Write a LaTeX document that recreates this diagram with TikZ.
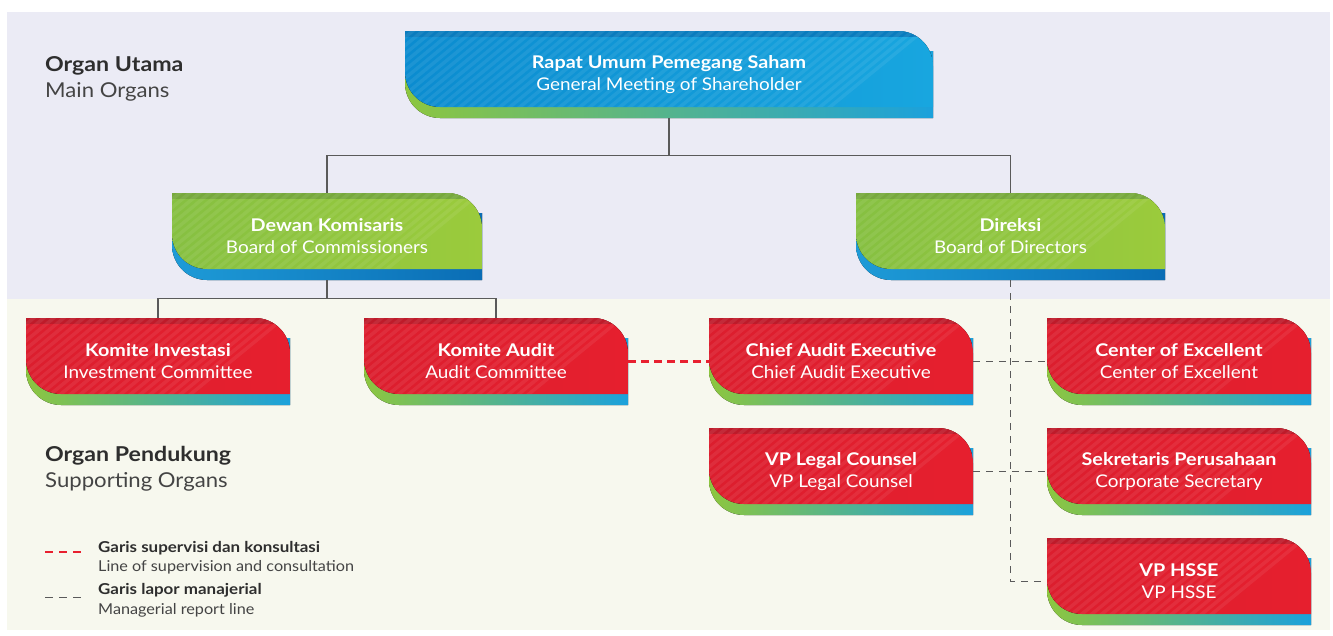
\documentclass[tikz,border=0pt]{standalone}
\usepackage{fontspec}
\setmainfont{Lato}[FakeStretch=1.08, BoldFeatures={FakeStretch=1.13}]
\usetikzlibrary{calc}
\definecolor{lav}{HTML}{EBEBF5}
\definecolor{beig}{HTML}{F7F8EE}
\definecolor{txtdark}{HTML}{2E2E2E}
\definecolor{txtgray}{HTML}{444444}
\definecolor{linegray}{HTML}{5A5A5A}
\definecolor{redline}{HTML}{E8202F}
\definecolor{rbL}{HTML}{DC1E2E}
\definecolor{rbR}{HTML}{E61F2E}
\definecolor{rtop}{HTML}{BE1B2A}
\definecolor{bbL}{HTML}{0B8CD0}
\definecolor{bbR}{HTML}{18A6DF}
\definecolor{btop}{HTML}{0A7CBE}
\definecolor{gbL}{HTML}{86C041}
\definecolor{gbR}{HTML}{9BCB3C}
\definecolor{gtop}{HTML}{77A93C}
\definecolor{shG}{HTML}{8DC63F}
\definecolor{shB}{HTML}{1BA1DC}
\definecolor{gsL}{HTML}{1E9BD7}
\definecolor{gsR}{HTML}{0A6DB5}
\tikzset{
  redbody/.style={left color=rbL, right color=rbR},
  redtop/.style={fill=rtop},
  redshadow/.style={left color=shG, right color=shB},
  bluebody/.style={left color=bbL, right color=bbR},
  bluetop/.style={fill=btop},
  blueshadow/.style={left color=shG, right color=shB},
  greenbody/.style={left color=gbL, right color=gbR},
  greentop/.style={fill=gtop},
  greenshadow/.style={left color=gsL, right color=gsR},
  stripe/.style={white, opacity=0.07, line width=3.5pt},
  boxtext/.style={inner sep=0pt, text=white, align=center, font=\fontsize{17.5}{22}\selectfont},
  conn/.style={draw=linegray, line width=1.2pt},
  supline/.style={draw=redline, line width=2.4pt, dash pattern=on 8pt off 5pt},
  mgrline/.style={draw=linegray, line width=1.2pt, dash pattern=on 7pt off 6pt},
  headbold/.style={anchor=base west, inner sep=0pt, text=txtdark, font=\fontsize{20.5}{24}\selectfont\bfseries},
  headreg/.style={anchor=base west, inner sep=0pt, text=txtgray, font=\fontsize{20.5}{24}\selectfont},
  legbold/.style={anchor=base west, inner sep=0pt, text=txtdark, font=\fontsize{15}{18}\selectfont\bfseries},
  legreg/.style={anchor=base west, inner sep=0pt, text=txtgray, font=\fontsize{15}{18}\selectfont},
}
\newcommand\orgbox[7]{%
  \fill[#5shadow] (#2,-#3-20) -- (#2+#4,-#3-20) -- (#2+#4,-#3-87) -- (#2+35,-#3-87)
     arc[start angle=270,end angle=180,radius=35] -- cycle;
  \begin{scope}
    \clip (#2,-#3) -- (#2+#4-35,-#3) arc[start angle=90,end angle=0,radius=35]
       -- (#2+#4,-#3-76) -- (#2+35,-#3-76) arc[start angle=270,end angle=180,radius=35] -- cycle;
    \fill[#5body] (#2,-#3) rectangle (#2+#4,-#3-76);
    \fill[#5top] (#2,-#3) rectangle (#2+#4,-#3-6);
    \foreach \k in {0,10,...,#4} \draw[stripe] (#2+\k-100,-#3-80) -- ++(110,90);
  \end{scope}
  \node[boxtext, minimum width=#4pt, minimum height=87pt] (#1) at (#2+#4/2,-#3-43.5) {{\bfseries #6}\\#7};
}
\begin{document}
\begin{tikzpicture}[x=1pt,y=1pt]
\useasboundingbox (0,0) rectangle (1333,-635);
\fill[white] (0,0) rectangle (1333,-635);
\fill[lav] (7,-12) rectangle (1330,-299);
\fill[beig] (7,-299) rectangle (1330,-630);

% section labels
\node[headbold] (ou) at (45,-71) {Organ Utama};
\node[headreg] (mo) at (45,-97) {Main Organs};
\node[headbold] (op) at (45,-461) {Organ Pendukung};
\node[headreg] (so) at (45,-487) {Supporting Organs};

% boxes
\orgbox{rups}{405}{31}{528}{blue}{Rapat Umum Pemegang Saham}{General Meeting of Shareholder}
\orgbox{dk}{172}{193}{310}{green}{Dewan Komisaris}{Board of Commissioners}
\orgbox{dir}{856}{193}{309}{green}{Direksi}{Board of Directors}
\orgbox{ki}{26}{318}{264}{red}{Komite Investasi}{Investment Committee}
\orgbox{ka}{364}{318}{264}{red}{Komite Audit}{Audit Committee}
\orgbox{cae}{709}{318}{264}{red}{Chief Audit Executive}{Chief Audit Executive}
\orgbox{coe}{1047}{318}{264}{red}{Center of Excellent}{Center of Excellent}
\orgbox{vpl}{709}{428}{264}{red}{VP Legal Counsel}{VP Legal Counsel}
\orgbox{sek}{1047}{428}{264}{red}{Sekretaris Perusahaan}{Corporate Secretary}
\orgbox{hsse}{1047}{538}{264}{red}{VP HSSE}{VP HSSE}

% solid connectors
\draw[conn] (rups.south) -- ++(0,-37) -| (dk.north);
\draw[conn] (rups.south) -- ++(0,-37) -| (dir.north);
\draw[conn] (dk.south) -- ++(0,-18) -| (ki.north);
\draw[conn] (dk.south) -- ++(0,-18) -| (ka.north);

% supervision line
\draw[supline] (ka.east) -- (cae.west);

% managerial lines
\draw[mgrline] (dir.south) |- (hsse.west);
\draw[mgrline] (cae.east) -- (coe.west);
\draw[mgrline] (vpl.east) -- (sek.west);

% legend
\coordinate (l1a) at (45,-552);
\coordinate (l1b) at (82,-552);
\coordinate (l2a) at (45,-597);
\coordinate (l2b) at (82,-597);
\draw[supline, dash pattern=on 8pt off 6pt] (l1a) -- (l1b);
\draw[mgrline, line width=1pt, dash pattern=on 8pt off 6pt] (l2a) -- (l2b);
\node[legbold] (lg1) at (98,-552) {Garis supervisi dan konsultasi};
\node[legreg] (lg2) at (98,-571) {Line of supervision and consultation};
\node[legbold] (lg3) at (98,-594) {Garis lapor manajerial};
\node[legreg] (lg4) at (98,-614) {Managerial report line};
\end{tikzpicture}
\end{document}
